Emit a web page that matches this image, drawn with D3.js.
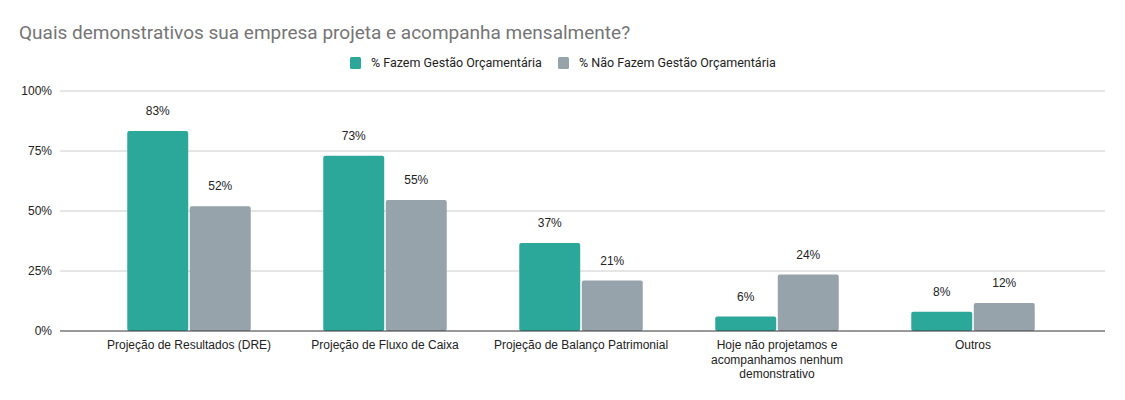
<!DOCTYPE html>
<html>
<head>
<meta charset="utf-8">
<script src="https://cdn.jsdelivr.net/npm/d3@7"></script>
<style>
  body { margin: 0; background: #fff; }
  text { font-family: "Liberation Sans", Arial, sans-serif; }
  .roboto { font-family: Roboto, "Noto Sans", sans-serif; }
</style>
</head>
<body>
<svg id="chart" width="1125" height="400"></svg>
<script>
const categories = [
  "Projeção de Resultados (DRE)",
  "Projeção de Fluxo de Caixa",
  "Projeção de Balanço Patrimonial",
  "Hoje não projetamos e acompanhamos nenhum demonstrativo",
  "Outros"
];
const seriesNames = ["% Fazem Gestão Orçamentária", "% Não Fazem Gestão Orçamentária"];
const fazem = [0.833, 0.73, 0.367, 0.06, 0.08];
const naoFazem = [0.52, 0.546, 0.21, 0.235, 0.117];
const yTicks = [0, 0.25, 0.5, 0.75, 1];
const colors = ["#2ca89a", "#97a3ab"];

const svg = d3.select("#chart");
const m = { top: 91, left: 60, right: 20, bottom: 69 };
const width = +svg.attr("width") - m.left - m.right;
const height = +svg.attr("height") - m.top - m.bottom;

svg.append("text")
  .attr("class", "roboto")
  .attr("x", 19).attr("y", 39)
  .attr("font-size", 19)
  .attr("fill", "#757575")
  .text("Quais demonstrativos sua empresa projeta e acompanha mensalmente?");

// legend
const legendPos = [350, 558];
const legend = svg.selectAll(".legend")
  .data(seriesNames)
  .join("g")
  .attr("class", "legend")
  .attr("transform", (d, i) => `translate(${legendPos[i]},57)`);
legend.append("rect")
  .attr("width", 11).attr("height", 12).attr("rx", 1.5)
  .attr("fill", (d, i) => colors[i]);
legend.append("text")
  .attr("class", "roboto")
  .attr("x", 21).attr("y", 10)
  .attr("font-size", 12.5)
  .attr("fill", "#222")
  .text(d => d);

const g = svg.append("g").attr("transform", `translate(${m.left},${m.top})`);

const y = d3.scaleLinear().domain([0, 1]).range([height, 0]);
const x0 = d3.scaleBand().domain(categories).range([31, width - 34]).paddingInner(0.37).paddingOuter(0.185);
const x1 = d3.scaleBand().domain([0, 1]).range([0, x0.bandwidth()]).paddingInner(0.025);

// gridlines
g.selectAll(".grid")
  .data(yTicks.filter(d => d > 0))
  .join("line")
  .attr("x1", 0).attr("x2", width)
  .attr("y1", d => y(d)).attr("y2", d => y(d))
  .attr("stroke", "#ccc");

g.selectAll(".ytick")
  .data(yTicks)
  .join("text")
  .attr("x", -8).attr("y", d => y(d) + 4)
  .attr("text-anchor", "end")
  .attr("font-size", 12)
  .attr("fill", "#222")
  .text(d3.format(".0%"));

const rows = categories.map((c, i) => ({ cat: c, vals: [fazem[i], naoFazem[i]] }));

const groups = g.selectAll(".cat")
  .data(rows)
  .join("g")
  .attr("transform", d => `translate(${x0(d.cat)},0)`);

groups.selectAll("rect")
  .data(d => d.vals.map((v, k) => ({ v, k })))
  .join("rect")
  .attr("x", d => x1(d.k))
  .attr("y", d => y(d.v))
  .attr("width", x1.bandwidth())
  .attr("height", d => height - y(d.v))
  .attr("rx", 2)
  .attr("fill", d => colors[d.k]);

groups.selectAll(".val")
  .data(d => d.vals.map((v, k) => ({ v, k })))
  .join("text")
  .attr("x", d => x1(d.k) + x1.bandwidth() / 2)
  .attr("y", d => y(d.v) - 16)
  .attr("text-anchor", "middle")
  .attr("font-size", 12)
  .attr("fill", "#222")
  .text(d => d3.format(".0%")(d.v));

// baseline
g.append("line")
  .attr("x1", 0).attr("x2", width)
  .attr("y1", height).attr("y2", height)
  .attr("stroke", "#333");

// category labels, wrapped
const wrapLines = {
  "Hoje não projetamos e acompanhamos nenhum demonstrativo":
    ["Hoje não projetamos e", "acompanhamos nenhum", "demonstrativo"]
};
groups.append("text")
  .attr("text-anchor", "middle")
  .attr("font-size", 12)
  .attr("fill", "#222")
  .attr("transform", `translate(${x0.bandwidth() / 2},${height + 18})`)
  .selectAll("tspan")
  .data(d => wrapLines[d.cat] || [d.cat])
  .join("tspan")
  .attr("x", 0)
  .attr("dy", (d, i) => i === 0 ? 0 : 14.5)
  .text(d => d);
</script>
</body>
</html>
